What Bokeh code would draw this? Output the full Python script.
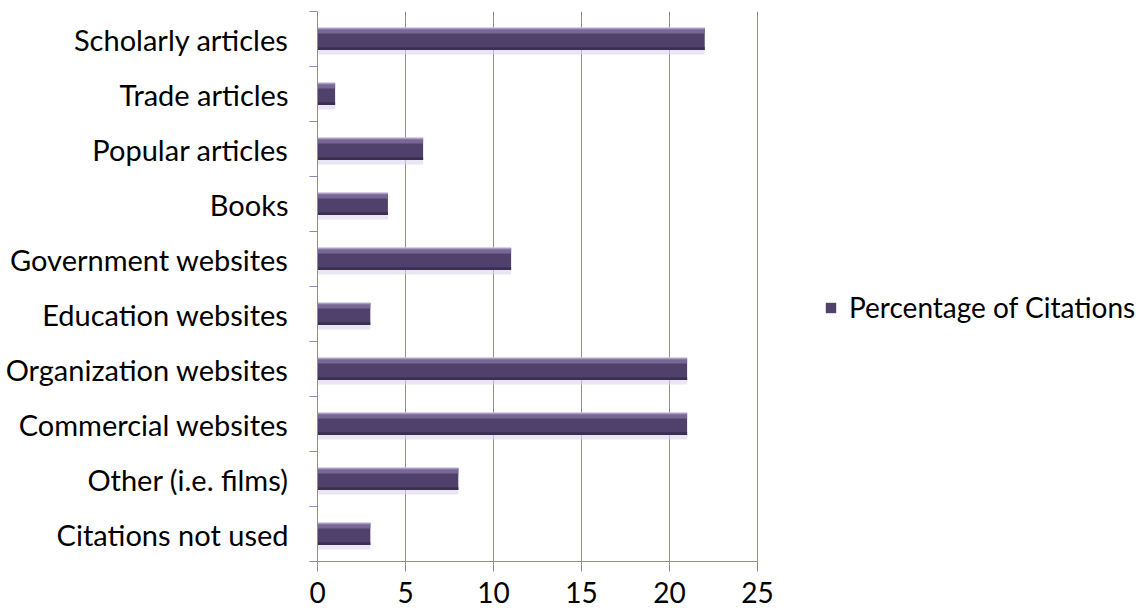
from bokeh.plotting import figure
from bokeh.models import FixedTicker, Legend, LegendItem, ColumnDataSource
from bokeh.embed import file_html
from bokeh.resources import INLINE

categories = ["Scholarly articles", "Trade articles", "Popular articles", "Books",
              "Government websites", "Education websites", "Organization websites",
              "Commercial websites", "Other (i.e. films)", "Citations not used"]
values = [22, 1, 6, 4, 11, 3, 21, 21, 8, 3]
x_ticks = [0, 5, 10, 15, 20, 25]
x_max = 25
series_name = "Percentage of Citations"

FONT = "Lato"
FS = "29px"
GRID = "#9482be"
n = len(categories)
pos = [n - 1 - i for i in range(n)]

W, H = 1141, 613
LEFT, TOP, BOTTOM, RIGHT = 317, 11, 52, 3
PLOT_W = 440  # pixel width of the 0..25 value scale
frame_w = W - LEFT - RIGHT
x_end = x_max * frame_w / PLOT_W  # extra room on the right hosts the legend

src = ColumnDataSource(dict(
    y=pos, v=values, cat=categories,
    y_top=[p_ + 0.15 for p_ in pos],
    y_top2=[p_ + 0.19 for p_ in pos],
    y_bot=[p_ - 0.175 for p_ in pos],
    y_glow=[p_ - 0.03 for p_ in pos],
))

p = figure(width=W, height=H, x_range=(0, x_end), y_range=(-0.5, n - 0.5),
           output_backend="svg", toolbar_location=None,
           min_border_left=LEFT, min_border_top=TOP, min_border_bottom=BOTTOM,
           min_border_right=RIGHT,
           background_fill_color="white", border_fill_color="white")
p.outline_line_color = None

# soft glow
p.hbar(y="y_glow", right="v", left=0, height=0.5, source=src,
       fill_color="#dcd3ea", fill_alpha=0.6, line_color=None)
main = p.hbar(y="y", right="v", left=0, height=0.4, source=src,
              fill_color="#4f416b", line_color=None)
p.hbar(y="y_top", right="v", left=0, height=0.1, source=src,
       fill_color="#766794", line_color=None)
p.hbar(y="y_top2", right="v", left=0, height=0.025, source=src,
       fill_color="#aa9cc8", line_color=None)
p.hbar(y="y_bot", right="v", left=0, height=0.05, source=src,
       fill_color="#3b2f51", line_color=None)

# axes
p.xaxis.ticker = FixedTicker(ticks=x_ticks)
p.xaxis.bounds = (0, x_max)
p.xaxis.major_tick_out = 10
p.xaxis.major_tick_in = 0
p.xaxis.minor_tick_line_color = None
p.xaxis.axis_line_color = GRID
p.xaxis.major_tick_line_color = GRID
p.xaxis.major_label_text_font = FONT
p.xaxis.major_label_text_font_size = "28px"
p.xaxis.major_label_text_color = "black"
p.xaxis.major_label_standoff = 10

p.yaxis.ticker = FixedTicker(ticks=pos, minor_ticks=[k - 0.5 for k in range(n + 1)])
p.yaxis.major_label_overrides = {pos[i]: categories[i] for i in range(n)}
p.yaxis.major_tick_out = 0
p.yaxis.major_tick_in = 0
p.yaxis.minor_tick_out = 8
p.yaxis.minor_tick_in = 0
p.yaxis.minor_tick_line_color = GRID
p.yaxis.axis_line_color = GRID
p.yaxis.major_label_text_font = FONT
p.yaxis.major_label_text_font_size = FS
p.yaxis.major_label_text_color = "black"
p.yaxis.major_label_standoff = 21

p.xgrid.ticker = FixedTicker(ticks=x_ticks)
p.xgrid.bounds = (0, x_max)
p.xgrid.grid_line_color = GRID
p.ygrid.grid_line_color = None

legend = Legend(items=[LegendItem(label=series_name, renderers=[main])],
                location=(PLOT_W + 67, 237), orientation="vertical",
                label_text_font=FONT, label_text_font_size="28px",
                label_text_color="black", glyph_width=13, glyph_height=13,
                label_standoff=12, padding=0, margin=0,
                border_line_color=None, background_fill_alpha=0)
p.add_layout(legend, "center")

open("out.html", "w").write(file_html(p, INLINE))
